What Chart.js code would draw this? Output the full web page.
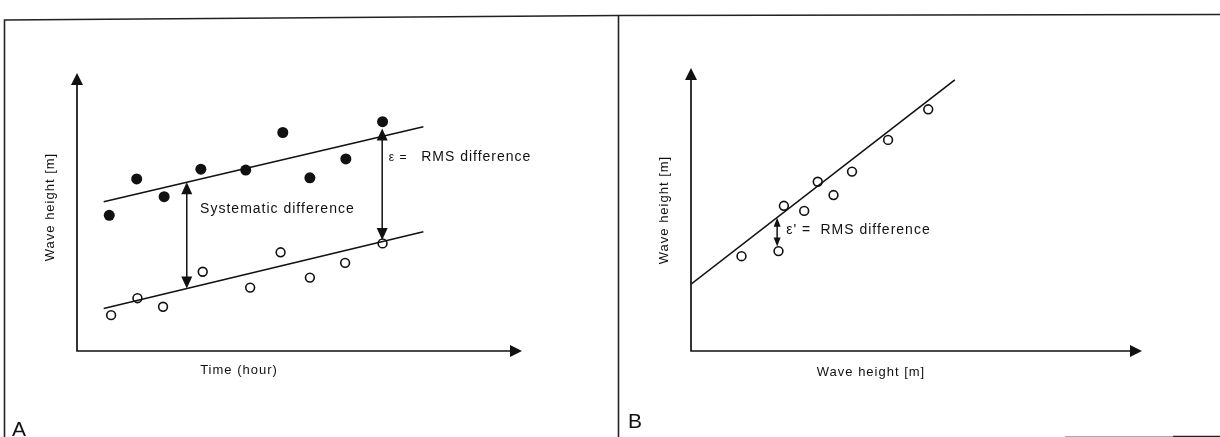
<!DOCTYPE html>
<html><head><meta charset="utf-8">
<script src="https://cdn.jsdelivr.net/npm/chart.js@4.4.1/dist/chart.umd.min.js"></script>
<style>
html,body{margin:0;padding:0;background:#fff;}
#wrap{position:relative;width:1220px;height:437px;overflow:hidden;background:#fff;}
canvas{position:absolute;top:0;}
</style></head><body>
<div id="wrap">
<canvas id="frame" width="1220" height="437" style="left:0"></canvas>
<canvas id="chartA" width="618" height="437" style="left:0"></canvas>
<canvas id="chartB" width="602" height="437" style="left:618px"></canvas>
</div>
<script>
// ---------- Panel A: time series (x = time [hour], y = wave height [m]) ----------
const timeFilled   = [0.87, 1.61, 2.35, 3.34, 4.55, 5.55, 6.28, 7.25, 8.24];
const heightFilled = [4.88, 6.19, 5.55, 6.54, 6.51, 7.86, 6.23, 6.91, 8.25];
const timeOpen     = [0.92, 1.63, 2.32, 3.39, 4.67, 5.49, 6.28, 7.23, 8.24];
const heightOpen   = [1.29, 1.90, 1.59, 2.85, 2.28, 3.55, 2.64, 3.17, 3.87];
const fitTimeA     = [0.72, 9.34];
const fitUpperA    = [5.37, 8.07];
const fitLowerA    = [1.53, 4.29];
// double arrows: [x, yFrom, yTo]
const arrowSystematic = [2.96, 6.07, 2.25];
const arrowRmsA       = [8.23, 8.00, 3.99];

// ---------- Panel B: scatter (x = wave height [m], y = wave height [m]) ----------
const waveX  = [1.12, 1.94, 2.06, 2.51, 2.81, 3.16, 3.57, 4.37, 5.26];
const waveY  = [3.35, 3.53, 5.13, 4.95, 5.98, 5.51, 6.34, 7.46, 8.54];
const fitXB  = [0, 5.85];
const fitYB  = [2.36, 9.58];
const arrowRmsB = [1.91, 4.71, 3.69];

const FONT = '"Liberation Sans", Arial, Helvetica, sans-serif';
const INK = '#111';

function pts(xs, ys){ return xs.map((v,i)=>({x:v, y:ys[i]})); }

function head(ctx, x, y, dir, w, l){
  ctx.beginPath();
  if(dir==='up'){ ctx.moveTo(x,y); ctx.lineTo(x-w/2,y+l); ctx.lineTo(x+w/2,y+l); }
  else if(dir==='down'){ ctx.moveTo(x,y); ctx.lineTo(x-w/2,y-l); ctx.lineTo(x+w/2,y-l); }
  else { ctx.moveTo(x,y); ctx.lineTo(x-l,y-w/2); ctx.lineTo(x-l,y+w/2); }
  ctx.closePath(); ctx.fill();
}

function decor(cfg){
  return {
    id:'decor',
    afterDraw(chart){
      const {ctx, chartArea:a, scales:{x, y}} = chart;
      ctx.save();
      ctx.strokeStyle = INK; ctx.fillStyle = INK; ctx.lineWidth = 1.7;
      // axes with arrow heads
      ctx.beginPath();
      ctx.moveTo(a.left, a.top + cfg.axisHead[1] - 1);
      ctx.lineTo(a.left, a.bottom);
      ctx.lineTo(a.right - cfg.axisHead[1] + 1, a.bottom);
      ctx.stroke();
      head(ctx, a.left, a.top, 'up', cfg.axisHead[0], cfg.axisHead[1]);
      head(ctx, a.right, a.bottom, 'right', cfg.axisHead[0], cfg.axisHead[1]);
      // double-headed annotation arrows
      cfg.arrows.forEach(([xv, y1, y2]) => {
        const px = x.getPixelForValue(xv), p1 = y.getPixelForValue(y1), p2 = y.getPixelForValue(y2);
        const [w,l] = cfg.arrowHead;
        ctx.lineWidth = 1.5;
        ctx.beginPath(); ctx.moveTo(px, p1 + l - 1); ctx.lineTo(px, p2 - l + 1); ctx.stroke();
        head(ctx, px, p1, 'up', w, l);
        head(ctx, px, p2, 'down', w, l);
      });
      // annotation texts
      ctx.textBaseline = 'middle'; ctx.textAlign = 'left';
      cfg.texts.forEach(t => {
        ctx.font = t.size + 'px ' + FONT;
        ctx.letterSpacing = (t.sp ?? 1) + 'px';
        ctx.fillText(t.text, x.getPixelForValue(t.x), y.getPixelForValue(t.y));
      });
      // axis titles
      ctx.font = '13px ' + FONT; ctx.letterSpacing = '1px'; ctx.textAlign = 'center';
      ctx.fillText(cfg.xTitle, a.left + cfg.xTitlePos[0], a.bottom + cfg.xTitlePos[1]);
      ctx.save();
      ctx.translate(a.left - cfg.yTitlePos[0], a.top + cfg.yTitlePos[1]);
      ctx.rotate(-Math.PI/2);
      ctx.fillText(cfg.yTitle, 0, 0);
      ctx.restore();
      // panel letter
      ctx.font = '21px ' + FONT; ctx.letterSpacing = '0px'; ctx.textAlign = 'left'; ctx.textBaseline = 'alphabetic';
      ctx.fillText(cfg.panel, cfg.panelPos[0], cfg.panelPos[1]);
      ctx.restore();
    }
  };
}

function baseOptions(xmax, ymax, pad){
  return {
    responsive:false, animation:false, devicePixelRatio:1,
    layout:{padding:pad},
    plugins:{legend:{display:false}, tooltip:{enabled:false}},
    scales:{
      x:{type:'linear', min:0, max:xmax, display:false},
      y:{type:'linear', min:0, max:ymax, display:false}
    }
  };
}

// Panel A
new Chart(document.getElementById('chartA'), {
  type:'scatter',
  data:{datasets:[
    {label:'Upper fit', type:'line', data:pts(fitTimeA, fitUpperA), borderColor:INK, borderWidth:1.6, pointRadius:0, fill:false},
    {label:'Lower fit', type:'line', data:pts(fitTimeA, fitLowerA), borderColor:INK, borderWidth:1.6, pointRadius:0, fill:false},
    {label:'Filled', data:pts(timeFilled, heightFilled), pointRadius:5.5, backgroundColor:INK, borderColor:INK, borderWidth:0},
    {label:'Open', data:pts(timeOpen, heightOpen), pointRadius:4.4, backgroundColor:'rgba(0,0,0,0)', borderColor:INK, borderWidth:1.6}
  ]},
  options: baseOptions(12, 10, {left:77, top:73, right:96, bottom:86}),
  plugins:[decor({
    axisHead:[12,12], arrowHead:[11,12],
    arrows:[arrowSystematic, arrowRmsA],
    texts:[
      {text:'Systematic difference', x:3.32, y:5.11, size:14},
      {text:'\u03b5 =', x:8.41, y:6.96, size:12, sp:1},
      {text:'RMS difference', x:9.28, y:6.96, size:14}
    ],
    xTitle:'Time (hour)', xTitlePos:[162, 19],
    yTitle:'Wave height [m]', yTitlePos:[27, 134],
    panel:'A', panelPos:[12, 436]
  })]
});

// Panel B
new Chart(document.getElementById('chartB'), {
  type:'scatter',
  data:{datasets:[
    {label:'Fit', type:'line', data:pts(fitXB, fitYB), borderColor:INK, borderWidth:1.6, pointRadius:0, fill:false},
    {label:'Open', data:pts(waveX, waveY), pointRadius:4.4, backgroundColor:'rgba(0,0,0,0)', borderColor:INK, borderWidth:1.6}
  ]},
  options: baseOptions(10, 10, {left:73, top:68, right:78, bottom:86}),
  plugins:[decor({
    axisHead:[12,12], arrowHead:[7,9],
    arrows:[arrowRmsB],
    texts:[
      {text:"\u03b5' =", x:2.11, y:4.28, size:14},
      {text:'RMS difference', x:2.87, y:4.28, size:14}
    ],
    xTitle:'Wave height [m]', xTitlePos:[180, 21],
    yTitle:'Wave height [m]', yTitlePos:[27, 142],
    panel:'B', panelPos:[10, 428]
  })]
});

// Frame lines of the figure
(function(){
  const c = document.getElementById('frame').getContext('2d');
  c.strokeStyle = '#222'; c.lineWidth = 1.6;
  c.beginPath();
  c.moveTo(4.5, 437); c.lineTo(4.5, 20); c.lineTo(618, 15.5); c.lineTo(1220, 14.5);
  c.stroke();
  c.beginPath(); c.moveTo(618.5, 15.5); c.lineTo(618.5, 437); c.stroke();
  c.strokeStyle = '#aaa'; c.lineWidth = 1.2;
  c.beginPath(); c.moveTo(1065, 436.5); c.lineTo(1173, 436.5); c.stroke();
  c.strokeStyle = '#222'; c.lineWidth = 1.6;
  c.beginPath(); c.moveTo(1173, 436.5); c.lineTo(1220, 436.5); c.stroke();
})();
</script>
</body></html>
